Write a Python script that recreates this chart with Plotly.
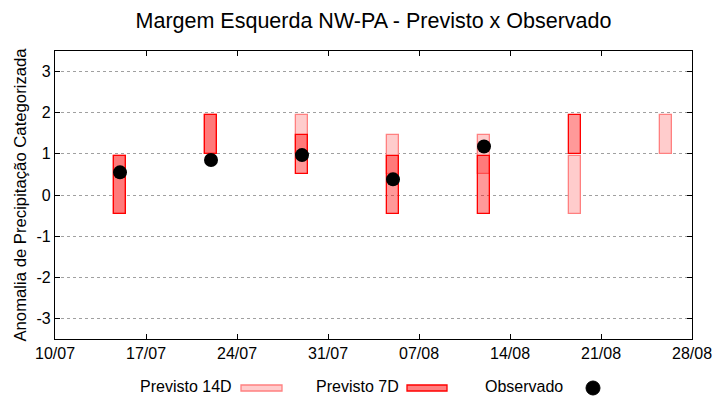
import plotly.graph_objects as go

# ---- data ----
dates_14d = ["2024-07-15", "2024-07-22", "2024-07-29", "2024-08-05", "2024-08-12", "2024-08-19", "2024-08-26"]
low_14d = [-0.45, 1.0, 1.0, 0.5, 0.5, -0.45, 1.0]
high_14d = [0.95, 1.95, 1.95, 1.45, 1.45, 0.95, 1.95]

dates_7d = ["2024-07-15", "2024-07-22", "2024-07-29", "2024-08-05", "2024-08-12", "2024-08-19"]
low_7d = [-0.45, 1.0, 0.5, -0.45, -0.45, 1.0]
high_7d = [0.95, 1.95, 1.45, 0.95, 0.95, 1.95]

dates_obs = ["2024-07-15", "2024-07-22", "2024-07-29", "2024-08-05", "2024-08-12"]
obs = [0.55, 0.85, 0.97, 0.38, 1.18]

tick_dates = ["2024-07-10", "2024-07-17", "2024-07-24", "2024-07-31", "2024-08-07",
              "2024-08-14", "2024-08-21", "2024-08-28"]
tick_labels = ["10/07", "17/07", "24/07", "31/07", "07/08", "14/08", "21/08", "28/08"]
y_ticks = [-3, -2, -1, 0, 1, 2, 3]
y_labels = ["-3", "-2", "-1", "0", "1", "2", "3"]

DAY = 86400000
FONT = "Liberation Sans, Arial, sans-serif"

fig = go.Figure()

fig.add_trace(go.Bar(
    x=dates_14d, base=low_14d, y=[h - l for h, l in zip(high_14d, low_14d)],
    width=[0.92 * DAY] * len(dates_14d),
    marker=dict(color="#ffcccc", line=dict(color="#ff8080", width=1.3)),
    name="Previsto 14D", showlegend=False,
))
fig.add_trace(go.Bar(
    x=dates_7d, base=low_7d, y=[h - l for h, l in zip(high_7d, low_7d)],
    width=[0.92 * DAY] * len(dates_7d),
    marker=dict(color="rgba(255,0,0,0.4)", line=dict(color="#ff0000", width=1.3)),
    name="Previsto 7D", showlegend=False,
))
fig.add_trace(go.Scatter(
    x=dates_obs, y=obs, mode="markers",
    marker=dict(color="black", size=14, symbol="circle"),
    name="Observado", showlegend=False,
))

# ---- custom legend (gnuplot style: text then sample) ----
L, R, T, B = 55, 692, 51, 339
def px(x):
    return (x - L) / (R - L)
def py(y):
    return (B - y) / (B - T)

legend_items = [("Previsto 14D", 234), ("Previsto 7D", 401), ("Observado", 565)]
annotations = []
for text, xr in legend_items:
    annotations.append(dict(
        x=px(xr), y=py(386), xref="paper", yref="paper", text=text,
        showarrow=False, xanchor="right", yanchor="middle",
        font=dict(family=FONT, size=16, color="black")))

shapes = [
    dict(type="rect", xref="paper", yref="paper", x0=px(241), x1=px(282), y0=py(391), y1=py(385),
         fillcolor="#ffcccc", line=dict(color="#ff8080", width=1.3)),
    dict(type="rect", xref="paper", yref="paper", x0=px(407), x1=px(447), y0=py(391), y1=py(385),
         fillcolor="#ff8080", line=dict(color="#ff0000", width=1.3)),
    dict(type="circle", xref="paper", yref="paper", x0=px(586), x1=px(600), y0=py(395), y1=py(381),
         fillcolor="black", line=dict(color="black", width=1)),
]

fig.update_layout(
    width=720, height=400, autosize=False,
    margin=dict(l=L, r=720 - R, t=T, b=400 - B, autoexpand=False),
    paper_bgcolor="white", plot_bgcolor="white",
    barmode="overlay", bargap=0,
    font=dict(family=FONT, size=16, color="black"),
    title=dict(text="Margem Esquerda NW-PA - Previsto x Observado",
               x=0.5, xanchor="center", y=1 - 20 / 400, yanchor="middle",
               xref="paper", yref="container",
               font=dict(family=FONT, size=21.5, color="black")),
    annotations=annotations,
    shapes=shapes,
    showlegend=False,
)

fig.update_xaxes(
    type="date", range=["2024-07-10", "2024-08-28"],
    tickvals=tick_dates, ticktext=tick_labels,
    ticks="inside", ticklen=5, tickwidth=1, tickcolor="black",
    showline=True, linecolor="black", linewidth=1.3, mirror="ticks",
    showgrid=False, zeroline=False, automargin=False,
    tickfont=dict(family=FONT, size=16, color="black"),
)
fig.update_yaxes(
    range=[-3.5, 3.5], tickvals=y_ticks, ticktext=y_labels,
    ticks="inside", ticklen=5, tickwidth=1, tickcolor="black",
    showline=True, linecolor="black", linewidth=1.3, mirror="ticks",
    showgrid=True, gridcolor="#a0a0a0", gridwidth=1, griddash="dot",
    zeroline=False, automargin=False,
    tickfont=dict(family=FONT, size=16, color="black"),
    title=dict(text="Anomalia de Precipitação Categorizada",
               font=dict(family=FONT, size=16.7, color="black"), standoff=5),
)

fig.write_html("out.html", config={"displayModeBar": False},
               post_script="document.body.style.margin='0';document.body.style.padding='0';")
